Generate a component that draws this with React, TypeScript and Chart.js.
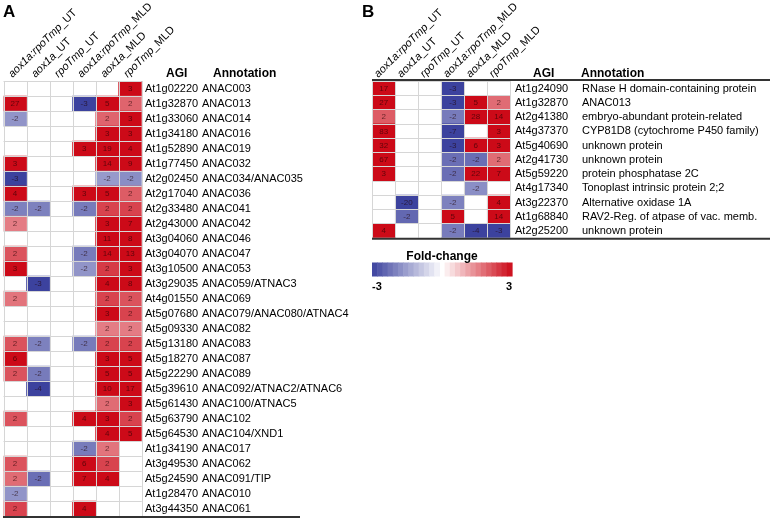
import React, { useEffect, useRef } from "react";
import { Chart, registerables } from "chart.js";

Chart.register(...registerables);

const columns = [
  "aox1a:rpoTmp_UT",
  "aox1a_UT",
  "rpoTmp_UT",
  "aox1a:rpoTmp_MLD",
  "aox1a_MLD",
  "rpoTmp_MLD",
];

const agiA = [
  "At1g02220", "At1g32870", "At1g33060", "At1g34180", "At1g52890", "At1g77450",
  "At2g02450", "At2g17040", "At2g33480", "At2g43000", "At3g04060", "At3g04070",
  "At3g10500", "At3g29035", "At4g01550", "At5g07680", "At5g09330", "At5g13180",
  "At5g18270", "At5g22290", "At5g39610", "At5g61430", "At5g63790", "At5g64530",
  "At1g34190", "At3g49530", "At5g24590", "At1g28470", "At3g44350",
];

const annotationA = [
  "ANAC003", "ANAC013", "ANAC014", "ANAC016", "ANAC019", "ANAC032",
  "ANAC034/ANAC035", "ANAC036", "ANAC041", "ANAC042", "ANAC046", "ANAC047",
  "ANAC053", "ANAC059/ATNAC3", "ANAC069", "ANAC079/ANAC080/ATNAC4", "ANAC082", "ANAC083",
  "ANAC087", "ANAC089", "ANAC092/ATNAC2/ATNAC6", "ANAC100/ATNAC5", "ANAC102", "ANAC104/XND1",
  "ANAC017", "ANAC062", "ANAC091/TIP", "ANAC010", "ANAC061",
];

// fold change per gene, columns in the order of `columns`; null = not significant
const foldA: (number | null)[][] = [
  [null, null, null, null, null, 3],
  [27, null, null, -3, 5, 1.9],
  [-1.7, null, null, null, 1.9, 3],
  [null, null, null, null, 3, 3],
  [null, null, null, 3, 19, 4],
  [3, null, null, null, 14, 9],
  [-3, null, null, null, -1.6, -1.8],
  [4, null, null, 3, 5, 2.0],
  [-2.0, -2.0, null, -2.1, 2.3, 2.3],
  [1.6, null, null, null, 3, 7],
  [null, null, null, null, 11, 8],
  [2.1, null, null, -2.1, 14, 13],
  [3, null, null, -1.7, 2.4, 3],
  [null, -3, null, null, 4, 8],
  [1.7, null, null, null, 2.3, 2.1],
  [null, null, null, null, 3, 2.3],
  [null, null, null, null, 1.6, 1.6],
  [2.1, -2.0, null, -2.1, 2.3, 2.3],
  [6, null, null, null, 3, 5],
  [2.1, -2.1, null, null, 5, 5],
  [null, -4, null, null, 10, 17],
  [null, null, null, null, 1.8, 3],
  [2.1, null, null, 4, 3, 2.3],
  [null, null, null, null, 4, 5],
  [null, null, null, -2.1, 1.7, null],
  [2.1, null, null, 6, 2.3, null],
  [1.8, -2.3, null, 7, 4, null],
  [-1.7, null, null, null, null, null],
  [2.3, null, null, 4, null, null],
];

const agiB = [
  "At1g24090", "At1g32870", "At2g41380", "At4g37370", "At5g40690", "At2g41730",
  "At5g59220", "At4g17340", "At3g22370", "At1g68840", "At2g25200",
];

const annotationB = [
  "RNase H domain-containing protein",
  "ANAC013",
  "embryo-abundant protein-related",
  "CYP81D8 (cytochrome P450 family)",
  "unknown protein",
  "unknown protein",
  "protein phosphatase 2C",
  "Tonoplast intrinsic protein 2;2",
  "Alternative oxidase 1A",
  "RAV2-Reg. of atpase of vac. memb.",
  "unknown protein",
];

const foldB: (number | null)[][] = [
  [17, null, null, -3, null, null],
  [27, null, null, -3, 5, 1.8],
  [2.0, null, null, -2.1, 28, 14],
  [83, null, null, -7, null, 3],
  [32, null, null, -3, 6, 3],
  [67, null, null, -2.3, -2.3, 1.8],
  [3, null, null, -2.3, 22, 7],
  [null, null, null, null, -1.8, null],
  [null, -20, null, -2.0, null, 4],
  [null, -2.4, null, 5, null, 14],
  [4, null, null, -2.1, -4, -3],
];

const colorbarTitle = "Fold-change";
const colorbarMin = -3;
const colorbarMax = 3;

const FONT = "'Liberation Sans', Arial, Helvetica, sans-serif";
const RED = [204, 10, 24];
const BLUE = [60, 66, 158];

function cellColor(v: number | null): string {
  if (v === null) return "rgba(0,0,0,0)";
  const t = Math.min(Math.abs(v) / 3, 1);
  const c = v > 0 ? RED : BLUE;
  const mix = (k: number) => Math.round(255 - (255 - c[k]) * t);
  return `rgb(${mix(0)},${mix(1)},${mix(2)})`;
}

type PanelOpts = {
  letter: string;
  letterX: number;
  labelDx: number;
  agiX: number;
  annotX: number;
  agiHeadX: number;
  annotHeadX: number;
  ruleLeft: number;
  ruleRight: number;
  topRule: boolean;
  colorbar?: { left: number; right: number; top: number; bottom: number };
};

function makePlugin(agi: string[], annot: string[], fold: (number | null)[][], o: PanelOpts) {
  return {
    id: "heatText",
    afterDatasetsDraw(chart: any) {
      const ctx = chart.ctx as CanvasRenderingContext2D;
      const xs = chart.scales.x;
      const ys = chart.scales.y;
      const { top, bottom, left, right } = chart.chartArea;
      const n = agi.length;
      const rowH = (bottom - top) / n;
      ctx.save();
      // grid
      ctx.strokeStyle = "#d6d6d6";
      ctx.lineWidth = 1;
      ctx.beginPath();
      for (let c = 0; c <= columns.length; c++) {
        const x = Math.round(xs.getPixelForValue(c)) + 0.5;
        ctx.moveTo(x, top);
        ctx.lineTo(x, bottom);
      }
      for (let r = 0; r <= n; r++) {
        const y = Math.round(top + r * rowH) + 0.5;
        ctx.moveTo(left, y);
        ctx.lineTo(right, y);
      }
      ctx.stroke();
      // numbers
      ctx.font = `8px ${FONT}`;
      ctx.textAlign = "center";
      ctx.textBaseline = "middle";
      ctx.fillStyle = "rgba(30,0,0,0.62)";
      for (let r = 0; r < n; r++) {
        for (let c = 0; c < columns.length; c++) {
          const v = fold[r][c];
          if (v === null) continue;
          const cx = xs.getPixelForValue(c + 0.5);
          const cy = ys.getPixelForValue(r);
          ctx.fillText(String(Math.round(v)), cx, cy + 0.5);
        }
      }
      ctx.restore();
    },
    afterDraw(chart: any) {
      const ctx = chart.ctx as CanvasRenderingContext2D;
      const xs = chart.scales.x;
      const ys = chart.scales.y;
      const { top, bottom } = chart.chartArea;
      ctx.save();
      ctx.fillStyle = "#000";
      // panel letter
      ctx.font = `bold 17px ${FONT}`;
      ctx.textAlign = "left";
      ctx.textBaseline = "alphabetic";
      ctx.fillText(o.letter, o.letterX, 17);
      // column headers, rotated
      columns.forEach((lab, c) => {
        const idx = lab.indexOf("_");
        const geno = lab.slice(0, idx);
        const cond = lab.slice(idx);
        const x0 = xs.getPixelForValue(c) + o.labelDx;
        const y0 = top - 3;
        ctx.save();
        ctx.translate(x0, y0);
        ctx.rotate(-Math.PI / 4);
        ctx.textAlign = "left";
        ctx.textBaseline = "alphabetic";
        ctx.font = `italic 11px ${FONT}`;
        ctx.fillText(geno, 0, 0);
        const w = ctx.measureText(geno).width;
        ctx.font = `11px ${FONT}`;
        ctx.fillText(cond, w, 0);
        ctx.restore();
      });
      // table headers
      ctx.font = `bold 12px ${FONT}`;
      ctx.textAlign = "left";
      ctx.textBaseline = "alphabetic";
      ctx.fillText("AGI", o.agiHeadX, top - 4);
      ctx.fillText("Annotation", o.annotHeadX, top - 4);
      // rows
      ctx.font = `11px ${FONT}`;
      ctx.textBaseline = "middle";
      agi.forEach((g, r) => {
        const y = ys.getPixelForValue(r) + 0.5;
        ctx.fillText(g, o.agiX, y);
        ctx.fillText(annot[r], o.annotX, y);
      });
      // rules
      ctx.strokeStyle = "#333";
      ctx.lineWidth = 2;
      ctx.beginPath();
      ctx.moveTo(o.ruleLeft, bottom + 1);
      ctx.lineTo(o.ruleRight, bottom + 1);
      if (o.topRule) {
        ctx.moveTo(o.ruleLeft, top - 1);
        ctx.lineTo(o.ruleRight, top - 1);
      }
      ctx.stroke();
      // colour bar
      if (o.colorbar) {
        const cb = o.colorbar;
        const steps = 27;
        const w = (cb.right - cb.left) / steps;
        for (let i = 0; i < steps; i++) {
          const v = colorbarMin + ((colorbarMax - colorbarMin) * (i + 0.5)) / steps;
          ctx.fillStyle = cellColor(Math.abs(v) < 0.12 ? null : v);
          ctx.fillRect(cb.left + i * w, cb.top, w + 0.6, cb.bottom - cb.top);
        }
        ctx.fillStyle = "#000";
        ctx.font = `bold 12px ${FONT}`;
        ctx.textAlign = "center";
        ctx.textBaseline = "alphabetic";
        ctx.fillText(colorbarTitle, (cb.left + cb.right) / 2, cb.top - 3);
        ctx.font = `bold 11px ${FONT}`;
        ctx.textAlign = "left";
        ctx.fillText(String(colorbarMin), cb.left, cb.bottom + 13);
        ctx.textAlign = "right";
        ctx.fillText(String(colorbarMax), cb.right, cb.bottom + 13);
      }
      ctx.restore();
    },
  };
}

function makeConfig(
  agi: string[],
  annot: string[],
  fold: (number | null)[][],
  padding: { left: number; right: number; top: number; bottom: number },
  o: PanelOpts
): any {
  return {
    type: "bar",
    data: {
      labels: agi,
      datasets: columns.map((col, c) => ({
        label: col,
        data: agi.map(() => [c, c + 1]),
        backgroundColor: fold.map((row) => cellColor(row[c])),
        borderWidth: 0,
        grouped: false,
        barPercentage: 1,
        categoryPercentage: 1,
      })),
    },
    options: {
      indexAxis: "y",
      responsive: false,
      maintainAspectRatio: false,
      animation: false,
      events: [],
      layout: { padding },
      plugins: {
        legend: { display: false },
        tooltip: { enabled: false },
        title: { display: false },
      },
      scales: {
        x: { type: "linear", min: 0, max: 6, display: false },
        y: { type: "category", display: false, offset: true },
      },
    },
    plugins: [makePlugin(agi, annot, fold, o)],
  };
}

export default function App() {
  const refA = useRef<HTMLCanvasElement>(null);
  const refB = useRef<HTMLCanvasElement>(null);

  useEffect(() => {
    const chartA = new Chart(
      refA.current as HTMLCanvasElement,
      makeConfig(
        agiA,
        annotationA,
        foldA,
        { left: 3.5, right: 355 - 141.7, top: 81, bottom: 4 },
        {
          letter: "A",
          letterX: 3,
          labelDx: 9,
          agiX: 145,
          annotX: 202,
          agiHeadX: 166,
          annotHeadX: 213,
          ruleLeft: 3,
          ruleRight: 300,
          topRule: false,
        }
      )
    );
    const chartB = new Chart(
      refB.current as HTMLCanvasElement,
      makeConfig(
        agiB,
        annotationB,
        foldB,
        { left: 17.3, right: 419 - 155.3, top: 81, bottom: 300 - 237.7 },
        {
          letter: "B",
          letterX: 7,
          labelDx: 6,
          agiX: 160,
          annotX: 227,
          agiHeadX: 178,
          annotHeadX: 226,
          ruleLeft: 17,
          ruleRight: 415,
          topRule: true,
          colorbar: { left: 17, right: 157, top: 262.5, bottom: 276.5 },
        }
      )
    );
    return () => {
      chartA.destroy();
      chartB.destroy();
    };
  }, []);

  return (
    <div
      style={{
        position: "fixed",
        left: 0,
        top: 0,
        width: 774,
        height: 520,
        background: "#fff",
        overflow: "hidden",
      }}
    >
      <canvas
        ref={refA}
        width={355}
        height={520}
        style={{ position: "absolute", left: 0, top: 0, width: 355, height: 520 }}
      />
      <canvas
        ref={refB}
        width={419}
        height={300}
        style={{ position: "absolute", left: 355, top: 0, width: 419, height: 300 }}
      />
    </div>
  );
}
